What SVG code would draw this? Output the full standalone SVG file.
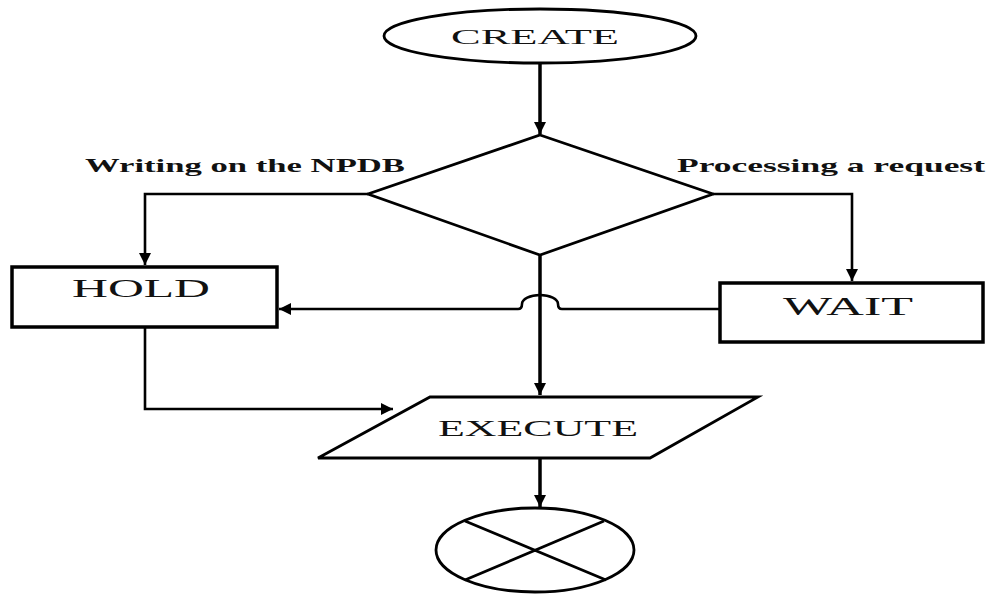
<svg xmlns="http://www.w3.org/2000/svg" width="987" height="597" viewBox="0 0 987 597">
<style>
.shape{fill:#fff;stroke:#000;stroke-width:2.8}
.box{fill:#fff;stroke:#000;stroke-width:3.5}
.conn{fill:none;stroke:#000;stroke-width:2.6}
.thick{fill:none;stroke:#000;stroke-width:3.5}
.lbl{font-family:"Liberation Serif",serif;fill:#111}
.cond{font-family:"Liberation Serif",serif;font-weight:bold;fill:#111}
</style>
<defs>
<marker id="ah" markerUnits="userSpaceOnUse" markerWidth="14" markerHeight="14" refX="12" refY="6" orient="auto">
<path d="M0,0 L12,6 L0,12 Z" fill="#000"/>
</marker>
</defs>
<rect width="987" height="597" fill="#fff"/>
<g id="connectors">
<path class="thick" d="M540,63 L540,134" marker-end="url(#ah)"/>
<path class="conn" d="M368,194 L145,194 L145,265" marker-end="url(#ah)"/>
<path class="conn" d="M713,194 L852,194 L852,281" marker-end="url(#ah)"/>
<path class="conn" d="M720,309 L562,309 Q558,309 558,304 A18,9 0 0 0 522,304 Q522,309 518,309 L279,309" marker-end="url(#ah)"/>
<path class="thick" d="M540,255 L540,395" marker-end="url(#ah)"/>
<path class="conn" d="M145,327 L145,409 L393,409" marker-end="url(#ah)"/>
<path class="thick" d="M540,458 L540,507" marker-end="url(#ah)"/>
</g>
<g id="create">
<ellipse class="shape" cx="540" cy="36" rx="156" ry="27"/>
<text class="lbl" x="535" y="44" font-size="22" text-anchor="middle" textLength="168" lengthAdjust="spacingAndGlyphs">CREATE</text>
</g>
<g id="decision">
<path class="shape" d="M540,135 L713,194 L540,255 L368,194 Z"/>
</g>
<g id="label-left">
<text class="cond" x="85" y="172" font-size="19" textLength="320" lengthAdjust="spacingAndGlyphs">Writing on the NPDB</text>
</g>
<g id="label-right">
<text class="cond" x="677" y="172" font-size="19" textLength="308" lengthAdjust="spacingAndGlyphs">Processing a request</text>
</g>
<g id="hold">
<rect class="box" x="12" y="267" width="265" height="60"/>
<text class="lbl" x="141" y="297" font-size="25" text-anchor="middle" textLength="138" lengthAdjust="spacingAndGlyphs">HOLD</text>
</g>
<g id="wait">
<rect class="box" x="720" y="283" width="263" height="59"/>
<text class="lbl" x="848" y="315" font-size="25" text-anchor="middle" textLength="130" lengthAdjust="spacingAndGlyphs">WAIT</text>
</g>
<g id="execute">
<path class="shape" d="M430,397 L758,397 L650,458 L318,458 Z"/>
<text class="lbl" x="538" y="436" font-size="24" text-anchor="middle" textLength="200" lengthAdjust="spacingAndGlyphs">EXECUTE</text>
</g>
<g id="end">
<ellipse class="shape" cx="535" cy="550" rx="99" ry="42"/>
<path class="shape" d="M465,521 L606,580 M465,580 L604,521"/>
</g>
</svg>
